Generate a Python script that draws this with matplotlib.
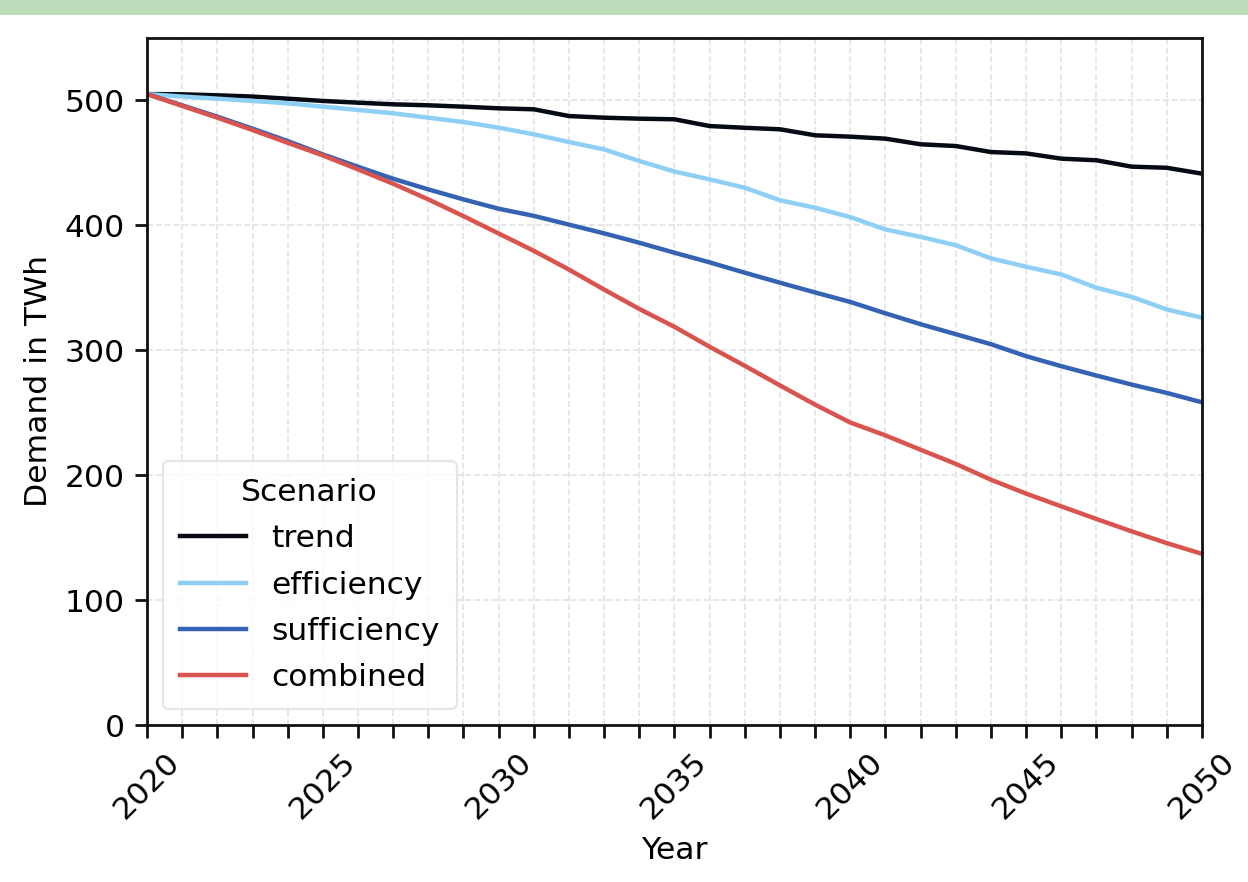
import matplotlib
matplotlib.use('Agg')
import matplotlib.pyplot as plt
from matplotlib.patches import Rectangle
from matplotlib.ticker import MultipleLocator


# ============================================================
# Data (TWh per year, 2020 .. 2050)
# ============================================================

YEARS = list(range(2020, 2051))

TREND = [
    505.0, 504.8, 504.0, 503.0, 501.3, 499.5, 498.1, 496.8, 496.0, 494.9,
    493.6, 492.8, 487.4, 486.1, 485.3, 484.8, 479.4, 478.0, 476.8, 472.0,
    470.9, 469.3, 464.8, 463.4, 458.6, 457.5, 453.3, 452.0, 446.9, 446.0,
    441.3,
]
EFFICIENCY = [
    505.0, 503.0, 501.3, 499.5, 497.6, 494.9, 492.3, 489.6, 486.1, 482.6,
    478.1, 472.8, 466.6, 460.7, 451.4, 443.0, 436.7, 430.0, 420.0, 414.0,
    406.5, 396.6, 390.7, 384.0, 373.5, 366.8, 360.6, 350.0, 342.7, 332.6,
    326.0,
]
SUFFICIENCY = [
    505.0, 496.0, 486.9, 477.3, 467.4, 456.7, 446.8, 437.2, 428.7, 420.7,
    413.2, 407.5, 400.5, 393.5, 386.0, 378.0, 370.3, 362.0, 354.0, 346.2,
    338.6, 329.5, 320.8, 312.8, 304.8, 295.2, 287.2, 279.7, 272.5, 265.8,
    258.3,
]
COMBINED = [
    505.0, 495.5, 486.1, 476.2, 466.0, 455.9, 444.7, 433.2, 420.7, 407.3,
    393.4, 379.5, 364.5, 348.5, 333.0, 318.7, 302.7, 287.5, 271.8, 256.4,
    242.1, 231.8, 220.3, 209.0, 196.3, 185.2, 175.0, 164.9, 155.0, 145.6,
    137.0,
]

SCENARIOS = ['trend', 'efficiency', 'sufficiency', 'combined']
SERIES = [TREND, EFFICIENCY, SUFFICIENCY, COMBINED]
COLORS = ['#050a14', '#8ecff5', '#3563b4', '#d9534f']

OUT_PNG = 'out.png'


plt.rcParams['font.family'] = ['DejaVu Sans']

fig = plt.figure(figsize=(6.24, 4.41), dpi=200)
ax = fig.add_axes([0.1178, 0.178, 0.8453, 0.7791])

# green band along the top edge of the picture
fig.patches.append(Rectangle(
    (0, 0.983), 1, 0.017,
    transform=fig.transFigure,
    facecolor='#bbdcb9',
    edgecolor='none',
))

for name, values, color in zip(SCENARIOS, SERIES, COLORS):
    ax.plot(YEARS, values, color=color, linewidth=1.6, label=name)

ax.set_xlim(2020, 2050)
ax.set_ylim(0, 550)
ax.xaxis.set_major_locator(MultipleLocator(5))
ax.xaxis.set_minor_locator(MultipleLocator(1))
ax.yaxis.set_major_locator(MultipleLocator(100))

ax.grid(True, which='major', axis='y', linestyle='--', color='#e3e3e3', linewidth=0.6)
ax.grid(True, which='both', axis='x', linestyle='--', color='#e3e3e3', linewidth=0.6)
ax.set_axisbelow(True)

ax.tick_params(axis='both', which='both', length=4.5, width=1.0,
               labelsize=11.3, color='#111111')
ax.tick_params(axis='x', which='major', labelrotation=45)
for spine in ax.spines.values():
    spine.set_linewidth(1.0)
    spine.set_color('#111111')

ax.set_xlabel('Year', fontsize=11.3)
ax.set_ylabel('Demand in TWh', fontsize=11.3)

legend = ax.legend(
    title='Scenario',
    loc='lower left',
    fontsize=11.3,
    title_fontsize=11.3,
    handlelength=2.1,
    handletextpad=0.8,
    borderpad=0.55,
    labelspacing=0.55,
    frameon=True,
    fancybox=True,
)
legend.get_frame().set_edgecolor('#e0e0e0')
legend.get_frame().set_linewidth(0.8)

fig.savefig(OUT_PNG, dpi=200)
print('Plot written: %s' % OUT_PNG)
